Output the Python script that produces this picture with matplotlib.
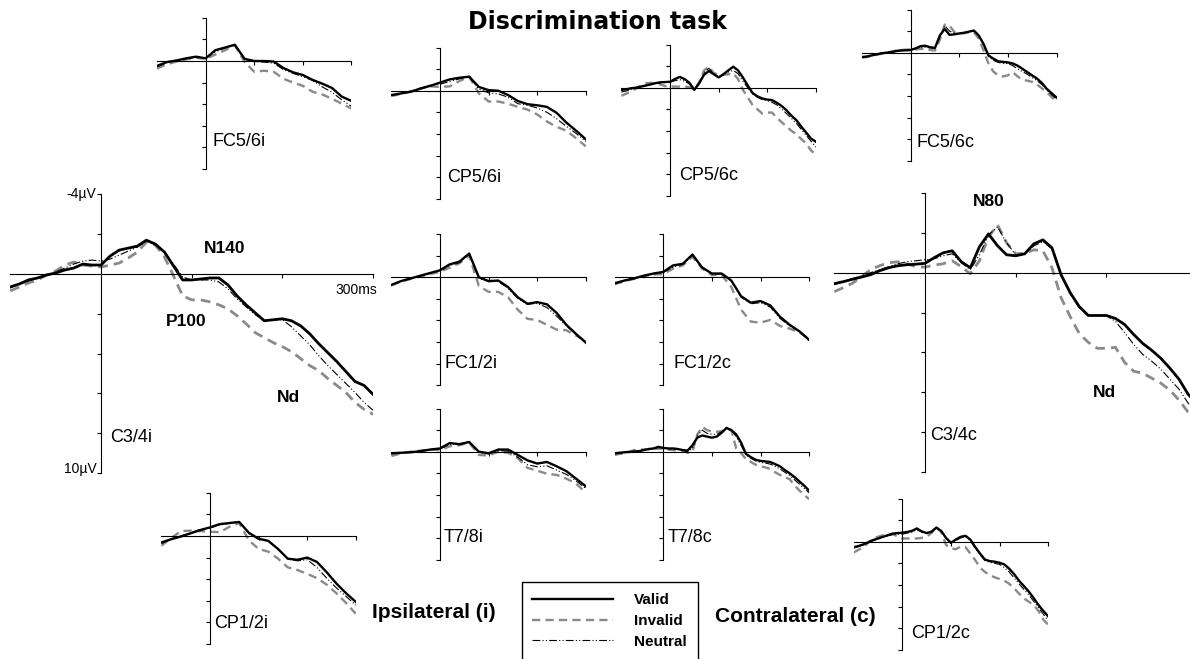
import numpy as np
import matplotlib.pyplot as plt
from matplotlib.patches import Rectangle

plt.rcParams['font.family'] = ['Liberation Sans', 'DejaVu Sans']

W, H = 1190, 659

# time axes in ms
t_big = np.arange(-100, 301, 10)
t_small = np.arange(-100, 301, 20)

# values in microvolts (negative plotted up)
c34i_valid = [0.65, 0.5, 0.3, 0.2, 0.05, -0.05, -0.2, -0.3, -0.5, -0.45, -0.45, -0.9, -1.2, -1.3, -1.4, -1.7, -1.5,
              -1.1, -0.4, 0.3, 0.3, 0.25, 0.2, 0.2, 0.55, 1.1, 1.55, 1.95, 2.35, 2.3, 2.25, 2.35, 2.6, 3.0, 3.5, 3.95,
              4.4, 4.9, 5.4, 5.6, 6.05]
c34i_invalid = [0.85, 0.65, 0.45, 0.3, 0.05, -0.15, -0.45, -0.6, -0.45, -0.4, -0.35, -0.45, -0.55, -0.8, -1.1, -1.6,
                -1.45, -0.85, 0.1, 1.1, 1.3, 1.3, 1.4, 1.55, 1.75, 2.1, 2.5, 2.95, 3.2, 3.45, 3.65, 3.9, 4.25, 4.6,
                4.85, 5.25, 5.6, 5.95, 6.45, 6.8, 7.05]
c34i_neutral = [0.7, 0.5, 0.35, 0.2, 0.05, -0.1, -0.3, -0.5, -0.65, -0.7, -0.65, -0.75, -0.95, -1.15, -1.35, -1.65,
                -1.5, -1.1, -0.5, 0.15, 0.3, 0.3, 0.3, 0.4, 0.75, 1.25, 1.65, 2.05, 2.3, 2.3, 2.3, 2.65, 3.1, 3.55,
                4.1, 4.6, 5.05, 5.5, 5.95, 6.45, 6.85]

c34c_valid = [0.55, 0.45, 0.33, 0.22, 0.1, -0.1, -0.25, -0.35, -0.4, -0.43, -0.47, -0.75, -1.0, -1.1, -0.55, -0.25,
              -1.3, -1.95, -1.35, -0.9, -0.85, -0.95, -1.45, -1.65, -1.25, 0.1, 1.0, 1.7, 2.15, 2.15, 2.15, 2.3, 2.6,
              3.1, 3.55, 3.9, 4.3, 4.8, 5.35, 6.1, 6.6]
c34c_invalid = [0.95, 0.75, 0.53, 0.2, -0.15, -0.35, -0.5, -0.55, -0.45, -0.3, -0.28, -0.38, -0.45, -0.6, -0.3, 0.05,
                -0.6, -1.8, -2.4, -1.5, -0.95, -0.97, -1.15, -1.1, -0.25, 1.25, 2.2, 3.05, 3.5, 3.8, 3.8, 3.75, 4.5,
                4.95, 5.05, 5.3, 5.55, 5.9, 6.4, 7.0, 7.4]
c34c_neutral = [0.6, 0.45, 0.3, 0.15, 0.0, -0.15, -0.3, -0.45, -0.55, -0.6, -0.65, -0.7, -0.85, -0.95, -0.5, -0.15,
                -0.9, -1.9, -2.3, -1.5, -0.9, -0.95, -1.35, -1.55, -1.2, 0.15, 1.05, 1.75, 2.15, 2.15, 2.15, 2.45, 3.0,
                3.6, 4.1, 4.45, 4.85, 5.35, 5.85, 6.55, 7.0]

fc56i_valid = [0.45, 0.1, -0.05, -0.25, -0.4, -0.25, -1.0, -1.25, -1.5, -0.2, 0.0, 0.0, 0.05, 0.65, 1.05, 1.3, 1.75,
               2.1, 2.5, 3.3, 3.7]
fc56i_invalid = [0.7, 0.3, 0.05, -0.15, -0.3, -0.2, -0.6, -1.0, -1.45, 0.1, 1.0, 0.9, 1.0, 1.65, 2.0, 2.3, 2.85, 3.1,
                 3.5, 3.95, 4.4]
fc56i_neutral = [0.55, 0.15, -0.05, -0.2, -0.35, -0.3, -0.85, -1.2, -1.55, -0.15, 0.05, 0.1, 0.2, 0.8, 1.15, 1.45,
                 1.8, 2.4, 2.9, 3.6, 4.2]

cp56i_valid = [0.4, 0.25, 0.1, -0.2, -0.45, -0.75, -1.05, -1.2, -1.3, -0.35, -0.05, 0.0, 0.4, 0.95, 1.25, 1.35, 1.5,
               2.05, 2.95, 3.7, 4.5]
cp56i_invalid = [0.5, 0.3, 0.05, -0.2, -0.4, -0.35, -0.4, -0.9, -1.3, 0.25, 1.0, 1.0, 1.2, 1.5, 1.75, 2.2, 2.85, 3.35,
                 3.7, 4.4, 5.15]
cp56i_neutral = [0.45, 0.25, 0.05, -0.25, -0.5, -0.6, -0.85, -1.1, -1.3, -0.15, 0.2, 0.3, 0.6, 1.2, 1.35, 1.6, 2.0,
                 2.6, 3.3, 3.95, 4.7]

cp56c_valid = [0.2, 0.15, 0.05, 0.0, -0.1, -0.2, -0.3, -0.42, -0.5, -0.52, -0.55, -0.8, -1.0, -0.8, -0.45, 0.2, -0.4,
               -1.2, -1.55, -1.25, -0.95, -1.25, -1.6, -1.95, -1.6, -0.95, -0.2, 0.5, 0.8, 1.0, 1.1, 1.15, 1.4, 1.7,
               2.1, 2.6, 3.0, 3.6, 4.15, 4.7, 5.0]
cp56c_invalid = [0.75, 0.55, 0.35, 0.1, -0.2, -0.4, -0.45, -0.4, -0.3, -0.15, -0.1, -0.1, -0.1, -0.1, -0.05, 0.15,
                 -0.5, -1.6, -1.95, -1.35, -1.2, -1.2, -1.25, -1.33, -0.8, 0.2, 0.9, 1.6, 2.0, 2.4, 2.3, 2.3, 2.8,
                 3.2, 3.6, 4.0, 4.3, 4.75, 5.15, 5.8, 6.2]
cp56c_neutral = [0.4, 0.3, 0.15, 0.05, -0.1, -0.2, -0.3, -0.4, -0.45, -0.48, -0.5, -0.65, -0.75, -0.6, -0.35, 0.1,
                 -0.4, -1.4, -1.8, -1.3, -1.0, -1.2, -1.45, -1.6, -1.3, -0.6, 0.0, 0.6, 0.9, 1.1, 1.2, 1.35, 1.6, 2.0,
                 2.4, 2.85, 3.3, 3.85, 4.4, 4.95, 5.5]

fc56c_valid = [0.4, 0.35, 0.25, 0.15, 0.05, 0.0, -0.05, -0.15, -0.2, -0.22, -0.25, -0.4, -0.6, -0.65, -0.5, -0.45,
               -1.6, -2.2, -1.65, -1.7, -1.78, -1.85, -1.95, -2.05, -1.6, -0.8, 0.25, 0.55, 0.8, 0.85, 0.9, 1.0, 1.2,
               1.5, 1.8, 2.1, 2.4, 2.8, 3.35, 3.75, 4.15]
fc56c_invalid = [0.45, 0.4, 0.3, 0.2, 0.1, 0.0, -0.1, -0.2, -0.25, -0.28, -0.3, -0.3, -0.35, -0.35, -0.25, -0.2, -1.2,
                 -2.6, -2.5, -1.9, -1.8, -1.8, -1.9, -1.9, -1.3, -0.2, 1.0, 1.75, 2.1, 2.2, 2.1, 1.8, 2.2, 2.5, 2.6,
                 2.7, 2.95, 3.3, 3.65, 4.1, 4.6]
fc56c_neutral = [0.4, 0.35, 0.25, 0.15, 0.05, -0.05, -0.1, -0.2, -0.25, -0.28, -0.3, -0.4, -0.5, -0.5, -0.45, -0.4,
                 -1.5, -2.5, -2.0, -1.8, -1.8, -1.85, -1.95, -2.0, -1.6, -0.7, 0.35, 0.7, 0.9, 1.0, 1.0, 1.2, 1.5,
                 1.75, 2.0, 2.3, 2.6, 2.95, 3.45, 3.9, 4.3]

fc12i_valid = [0.7, 0.35, 0.1, -0.15, -0.4, -0.65, -1.2, -1.45, -2.2, 0.0, 0.35, 0.3, 0.9, 1.85, 2.45, 2.3, 2.5, 3.3,
               4.4, 5.25, 6.05]
fc12i_invalid = [0.75, 0.4, 0.15, -0.1, -0.3, -0.5, -0.9, -1.3, -2.0, 0.8, 1.35, 1.35, 1.85, 3.0, 3.85, 3.95, 4.4,
                 4.85, 4.9, 5.4, 5.9]
fc12i_neutral = [0.7, 0.35, 0.1, -0.15, -0.4, -0.6, -1.1, -1.35, -2.15, 0.1, 0.4, 0.4, 1.0, 1.95, 2.5, 2.4, 2.8, 3.6,
                 4.5, 5.3, 5.95]

fc12c_valid = [0.55, 0.3, 0.1, -0.15, -0.35, -0.5, -1.1, -1.25, -2.1, -0.9, -0.35, -0.35, 0.3, 1.75, 2.35, 2.2, 2.6,
               3.65, 4.4, 5.0, 5.8]
fc12c_invalid = [0.65, 0.35, 0.15, -0.1, -0.25, -0.3, -0.8, -1.1, -1.9, -0.8, -0.2, -0.2, 0.9, 3.0, 4.1, 4.2, 3.95,
                 4.5, 4.75, 5.1, 5.7]
fc12c_neutral = [0.6, 0.3, 0.1, -0.15, -0.35, -0.45, -0.95, -1.2, -2.15, -0.95, -0.3, -0.3, 0.35, 1.85, 2.45, 2.35,
                 2.75, 3.8, 4.5, 5.0, 5.75]

t78i_valid = [0.15, 0.1, 0.05, -0.05, -0.2, -0.3, -0.8, -0.7, -0.9, 0.0, 0.15, -0.2, -0.2, 0.3, 0.8, 1.1, 0.95, 1.35,
              1.8, 2.5, 3.2]
t78i_invalid = [0.4, 0.15, 0.0, -0.1, -0.2, -0.15, -0.5, -0.6, -0.85, 0.3, 0.35, 0.0, 0.1, 0.6, 1.5, 1.75, 2.05, 2.15,
                2.5, 2.95, 3.8]
t78i_neutral = [0.2, 0.1, 0.05, -0.05, -0.2, -0.25, -0.7, -0.65, -0.9, 0.05, 0.2, -0.1, -0.05, 0.5, 1.2, 1.4, 1.3,
                1.7, 2.1, 2.7, 3.4]

t78c_valid = [0.15, 0.1, 0.05, 0.02, 0.0, -0.05, -0.15, -0.25, -0.3, -0.45, -0.35, -0.3, -0.3, -0.25, -0.15, -0.1,
              -0.6, -1.3, -1.5, -1.4, -1.3, -1.4, -1.75, -2.2, -2.0, -1.6, -0.85, 0.2, 0.5, 0.75, 0.85, 0.9, 0.95,
              1.15, 1.35, 1.7, 2.0, 2.35, 2.75, 3.15, 3.6]
t78c_invalid = [0.3, 0.2, 0.15, 0.0, -0.15, -0.2, -0.2, -0.22, -0.25, -0.28, -0.3, -0.2, -0.15, -0.12, -0.1, 0.1, 0.0,
                -1.6, -2.3, -2.0, -1.85, -1.85, -1.9, -2.1, -2.0, -0.3, 0.1, 0.7, 0.95, 1.2, 1.35, 1.45, 1.6, 1.9,
                2.15, 2.35, 2.55, 3.1, 3.6, 4.0, 4.4]
t78c_neutral = [0.2, 0.15, 0.1, 0.0, -0.05, -0.1, -0.15, -0.25, -0.3, -0.35, -0.35, -0.3, -0.25, -0.2, -0.15, 0.0,
                -0.3, -1.5, -2.0, -1.7, -1.6, -1.6, -1.85, -2.15, -2.05, -1.4, -0.6, 0.3, 0.6, 0.85, 1.0, 1.05, 1.15,
                1.35, 1.6, 1.9, 2.2, 2.6, 3.0, 3.4, 3.8]

cp12i_valid = [0.6, 0.3, 0.05, -0.25, -0.55, -0.8, -1.1, -1.2, -1.3, -0.3, 0.25, 0.45, 1.2, 2.1, 2.2, 2.0, 2.4, 3.35,
               4.4, 5.3, 6.1]
cp12i_invalid = [0.9, 0.2, -0.45, -0.5, -0.45, -0.4, -0.35, -0.85, -1.2, 0.4, 1.2, 1.45, 2.1, 2.9, 3.15, 3.5, 3.9,
                 4.5, 5.3, 6.2, 7.2]
cp12i_neutral = [0.7, 0.3, 0.0, -0.3, -0.6, -0.75, -1.0, -1.2, -1.35, -0.2, 0.3, 0.5, 1.2, 2.15, 2.3, 2.2, 2.9, 3.9,
                 4.8, 5.6, 6.4]

cp12c_valid = [0.5, 0.4, 0.25, 0.05, -0.15, -0.3, -0.45, -0.6, -0.75, -0.8, -0.83, -0.9, -1.0, -1.23, -0.95, -0.8,
               -0.92, -1.3, -1.0, -0.35, 0.1, -0.2, -0.45, -0.55, -0.2, 0.5, 1.1, 1.65, 1.8, 1.85, 1.95, 2.1, 2.5,
               3.0, 3.6, 4.1, 4.6, 5.2, 5.85, 6.4, 6.9]
cp12c_invalid = [1.0, 0.75, 0.5, 0.1, -0.3, -0.45, -0.6, -0.65, -0.7, -0.5, -0.3, -0.3, -0.3, -0.3, -0.35, -0.45,
                 -0.8, -1.35, -0.9, 0.3, 0.6, 0.7, 0.45, 0.5, 1.1, 1.7, 2.4, 2.8, 3.1, 3.3, 3.45, 3.6, 3.9, 4.3, 4.8,
                 5.25, 5.55, 5.85, 6.4, 7.2, 7.7]
cp12c_neutral = [0.6, 0.45, 0.3, 0.1, -0.1, -0.25, -0.4, -0.55, -0.65, -0.7, -0.7, -0.8, -0.9, -1.1, -0.9, -0.8,
                 -0.95, -1.35, -1.0, -0.3, 0.15, -0.1, -0.35, -0.45, -0.1, 0.6, 1.2, 1.75, 1.9, 2.0, 2.1, 2.4, 2.8,
                 3.35, 3.9, 4.4, 4.9, 5.5, 6.1, 6.7, 7.3]

# name, time, valid, invalid, neutral, pixel of (0 ms, 0 uV), big?, label pos (ms, uV)
panels = [
    ('FC5/6i', t_small, fc56i_valid, fc56i_invalid, fc56i_neutral, 205.7, 61.0, False, 14, 7.5),
    ('CP5/6i', t_small, cp56i_valid, cp56i_invalid, cp56i_neutral, 440.0, 90.7, False, 14, 8.0),
    ('CP5/6c', t_big, cp56c_valid, cp56c_invalid, cp56c_neutral, 670.0, 87.7, False, 18, 8.1),
    ('FC5/6c', t_big, fc56c_valid, fc56c_invalid, fc56c_neutral, 910.7, 52.7, False, 12, 8.3),
    ('C3/4i', t_big, c34i_valid, c34i_invalid, c34i_neutral, 101.0, 274.0, True, 10, 8.2),
    ('FC1/2i', t_small, fc12i_valid, fc12i_invalid, fc12i_neutral, 440.0, 277.3, False, 10, 8.0),
    ('FC1/2c', t_small, fc12c_valid, fc12c_invalid, fc12c_neutral, 663.3, 277.3, False, 20, 8.0),
    ('C3/4c', t_big, c34c_valid, c34c_invalid, c34c_neutral, 925.0, 272.7, True, 6, 8.2),
    ('T7/8i', t_small, t78i_valid, t78i_invalid, t78i_neutral, 440.0, 451.7, False, 8, 7.9),
    ('T7/8c', t_big, t78c_valid, t78c_invalid, t78c_neutral, 663.3, 451.7, False, 8, 7.9),
    ('CP1/2i', t_small, cp12i_valid, cp12i_invalid, cp12i_neutral, 210.0, 536.0, False, 9, 8.1),
    ('CP1/2c', t_big, cp12c_valid, cp12c_invalid, cp12c_neutral, 902.3, 541.7, False, 18, 8.5),
]

fig = plt.figure(figsize=(W / 100, H / 100), dpi=100)

axes = {}
for name, t, v, inv, neu, x0, y0, big, lx, ly in panels:
    sx, sy = (0.907, 19.9) if big else (0.486, 10.8)
    left = x0 - 100 * sx
    bottom = y0 + 10 * sy
    ax = fig.add_axes([left / W, 1 - bottom / H, 400 * sx / W, 14 * sy / H])
    ax.set_xlim(-100, 300)
    ax.set_ylim(10, -4)
    ax.patch.set_visible(False)
    ax.spines['top'].set_visible(False)
    ax.spines['right'].set_visible(False)
    ax.spines['left'].set_position(('data', 0))
    ax.spines['bottom'].set_position(('data', 0))
    for s in ['left', 'bottom']:
        ax.spines[s].set_linewidth(0.8)
    ax.set_xticks([100, 200, 300])
    ax.set_yticks(range(-4, 11, 2))
    ax.tick_params(direction='out', length=3, width=0.8, labelbottom=False, labelleft=False)
    lw = 2.0 if big else 1.7
    li, = ax.plot(t, inv, color='#8a8a8a', lw=lw, ls=(0, (3.5, 2.2)), zorder=2)
    ln, = ax.plot(t, neu, color='black', lw=0.8, ls=(0, (7, 2, 1, 2, 1, 2)), zorder=3)
    lv, = ax.plot(t, v, color='black', lw=lw, zorder=4)
    ax.text(lx, ly, name, fontsize=13, ha='left', va='center')
    axes[name] = ax

# component labels
ax = axes['C3/4i']
ax.text(136, -1.3, 'N140', fontsize=12.5, fontweight='bold', ha='center', va='center')
ax.text(94, 2.4, 'P100', fontsize=12.5, fontweight='bold', ha='center', va='center')
ax.text(207, 6.2, 'Nd', fontsize=12.5, fontweight='bold', ha='center', va='center')
ax.text(282, 0.8, '300ms', fontsize=10, ha='center', va='center')
ax.text(-5, -4, '-4µV', fontsize=10, ha='right', va='center')
ax.text(-5, 9.8, '10µV', fontsize=10, ha='right', va='center')
ax = axes['C3/4c']
ax.text(70, -3.6, 'N80', fontsize=12.5, fontweight='bold', ha='center', va='center')
ax.text(198, 6.0, 'Nd', fontsize=12.5, fontweight='bold', ha='center', va='center')

fig.text(598 / W, 1 - 22 / H, 'Discrimination task', fontsize=17, fontweight='bold', ha='center', va='center',
         family='DejaVu Sans')
fig.text(372 / W, 1 - 612 / H, 'Ipsilateral (i)', fontsize=15, fontweight='bold', ha='left', va='center')
fig.text(715 / W, 1 - 616 / H, 'Contralateral (c)', fontsize=15, fontweight='bold', ha='left', va='center')

# legend box
fig.add_artist(Rectangle((522 / W, 1 - 670 / H), 176 / W, 88 / H, transform=fig.transFigure,
                         fill=False, lw=1.0, ec='black'))
fig.legend([lv, li, ln], ['Valid', 'Invalid', 'Neutral'], loc='upper left',
           bbox_to_anchor=(532 / W, 1 - 593 / H), frameon=False, borderpad=0, borderaxespad=0,
           handlelength=5.3, handletextpad=1.35, labelspacing=0.45,
           prop={'weight': 'bold', 'size': 11})

fig.savefig('out.png', dpi=100)
